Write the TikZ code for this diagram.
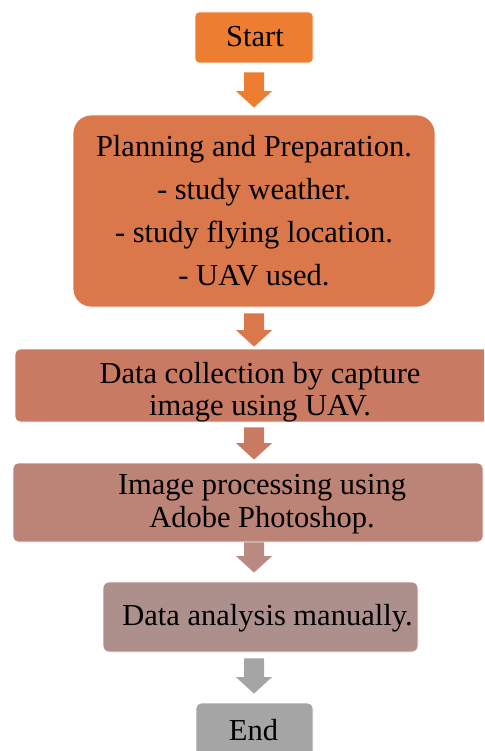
\documentclass[tikz,border=0pt]{standalone}
\usepackage{fontspec}
\setmainfont{Liberation Serif}
\usetikzlibrary{calc}
\definecolor{cA}{HTML}{ED7D31}
\definecolor{cB}{HTML}{DA774B}
\definecolor{cC}{HTML}{C97A63}
\definecolor{cD}{HTML}{BC8477}
\definecolor{cDa}{HTML}{B88A82}
\definecolor{cE}{HTML}{AD8F8B}
\definecolor{cF}{HTML}{A5A5A5}
\tikzset{
  box/.style={draw=white, line width=0.8pt, inner sep=0pt, rounded corners=#1},
  box/.default=5pt,
  txt/.style={inner sep=0pt, align=center, font={\fontsize{30.5}{32}\selectfont}},
}
\newcommand\blockarrow[5]{%
  \fill[#1] let \p1=($(#2.south -| axis)+(0,#4)$), \p2=($(#3.north -| axis)+(0,-#5)$) in
    (\x1-10pt,\y1) -- (\x1+10pt,\y1) -- (\x1+10pt,\y2+16.5pt) -- (\x1+18pt,\y2+16.5pt)
    -- (\x2,\y2) -- (\x1-18pt,\y2+16.5pt) -- (\x1-10pt,\y2+16.5pt) -- cycle;}
\begin{document}
\begin{tikzpicture}[x=1pt,y=-1pt]
\useasboundingbox (0,0) rectangle (484,751);
\clip (0,0) rectangle (484,751);
\coordinate (axis) at (254,0);
% boxes
\node[box=4pt, fill=cA, minimum width=118pt, minimum height=51pt] (start) at (254,37.5) {};
\node[box=18pt, fill=cB, minimum width=362pt, minimum height=192pt] (plan) at (254,211) {};
\node[box=5pt, fill=cC, minimum width=480pt, minimum height=73pt] (data) at (255,385.5) {};
\node[box=5pt, fill=cD, minimum width=470pt, minimum height=79pt] (img) at (248,502.5) {};
\node[box=6pt, fill=cE, minimum width=315pt, minimum height=70pt] (ana) at (260.5,617) {};
\node[box=5pt, fill=cF, minimum width=117pt, minimum height=67pt] (end) at (254.5,736.5) {};
% texts
\node[txt, anchor=base] (tstart) at (255,46.7) {Start};
\node[txt, font={\fontsize{30.5}{42.8}\selectfont}] (tplan) at (254,210.6)
  {Planning and Preparation.\\- study weather.\\- study flying location.\\- UAV used.};
\node[txt] (tdata) at (260,391.9) {Data collection by capture\\image using UAV.};
\node[txt, font={\fontsize{30.5}{33}\selectfont}] (timg) at (262,504.4) {Image processing using\\Adobe Photoshop.};
\node[txt, anchor=base] (tana) at (267.5,625) {Data analysis manually.};
\node[txt, anchor=base] (tend) at (253.5,740) {End};
% arrows
\blockarrow{cA}{start}{plan}{9}{7}
\blockarrow{cB}{plan}{data}{6}{2}
\blockarrow{cC}{data}{img}{5}{3}
\blockarrow{cDa}{img}{ana}{0}{9}
\blockarrow{cF}{ana}{end}{6}{9}
\end{tikzpicture}
\end{document}
